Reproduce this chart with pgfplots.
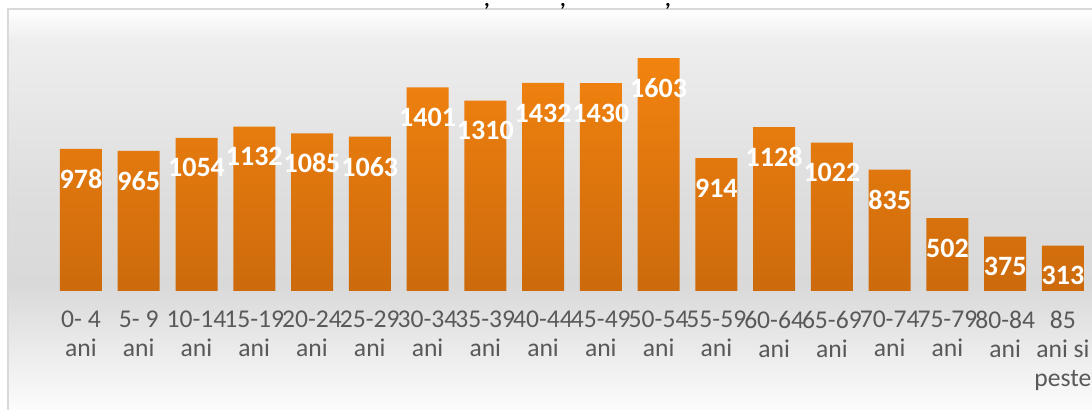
\documentclass[border=0pt]{standalone}
\usepackage{fontspec}
\setmainfont{Carlito}
\usepackage{pgfplots}
\pgfplotsset{compat=1.18}
\definecolor{bordergray}{HTML}{D9D9D9}
\definecolor{labelgray}{HTML}{595959}
\definecolor{bartop}{HTML}{F2830F}
\definecolor{barbot}{HTML}{CC6A0C}
\definecolor{bgA}{HTML}{FFFFFF}
\definecolor{bgB}{HTML}{EEEEEE}
\definecolor{bgC}{HTML}{DDDDDD}
\definecolor{bgD}{HTML}{D9D9D9}
\definecolor{bgE}{HTML}{FCFCFC}
\begin{document}
\begin{tikzpicture}
\useasboundingbox (0,0) rectangle (546pt,205pt);
% background gradient
\shade[top color=bgA,bottom color=bgB] (4pt,184.8pt) rectangle (546pt,200.5pt);
\shade[top color=bgB,bottom color=bgC] (4pt,104.8pt) rectangle (546pt,185pt);
\shade[top color=bgC,bottom color=bgD] (4pt,62.3pt) rectangle (546pt,105pt);
\shade[top color=bgD,bottom color=bgE] (4pt,0pt) rectangle (546pt,62.5pt);
% chart border
\draw[bordergray, line width=1pt] (4pt,-2pt) -- (4pt,200.5pt) -- (550pt,200.5pt);
% cropped title (only its commas are visible)
\node[anchor=north, inner sep=0pt, font=\bfseries\fontsize{11}{13}\selectfont] at (243.5pt,203.4pt) {,};
\node[anchor=north, inner sep=0pt, font=\bfseries\fontsize{11}{13}\selectfont] at (281.5pt,203.4pt) {,};
\node[anchor=north, inner sep=0pt, font=\bfseries\fontsize{11}{13}\selectfont] at (334pt,203.4pt) {,};
\begin{axis}[
  at={(26.05pt,59.5pt)}, anchor=south west,
  scale only axis, width=519.85pt, height=130.75pt,
  xmin=-0.5, xmax=17.5, ymin=0, ymax=1800,
  ybar, bar width=21pt,
  axis line style={draw=none},
  ytick=\empty,
  xtick={0,...,17},
  major tick length=0pt,
  xticklabels={{0- 4\\ani},{5- 9\\ani},{10-14\\ani},{15-19\\ani},{20-24\\ani},{25-29\\ani},{30-34\\ani},{35-39\\ani},{40-44\\ani},{45-49\\ani},{50-54\\ani},{55-59\\ani},{60-64\\ani},{65-69\\ani},{70-74\\ani},{75-79\\ani},{80-84\\ani},{85\\ani si\\peste}},
  xticklabel style={align=center, font=\fontsize{12.8}{14.5}\selectfont, text=labelgray, yshift=-6.5pt},
  nodes near coords,
  nodes near coords style={anchor=center, yshift=-15pt, text=white, font=\bfseries\fontsize{14}{16}\selectfont},
  /pgf/number format/assume math mode=true,
  /pgf/number format/1000 sep={},
]
\addplot[draw=none, top color=bartop, bottom color=barbot] coordinates {
(0,978) (1,965) (2,1054) (3,1132) (4,1085) (5,1063) (6,1401) (7,1310) (8,1432)
(9,1430) (10,1603) (11,914) (12,1128) (13,1022) (14,835) (15,502) (16,375) (17,313)};
\end{axis}
\end{tikzpicture}
\end{document}
